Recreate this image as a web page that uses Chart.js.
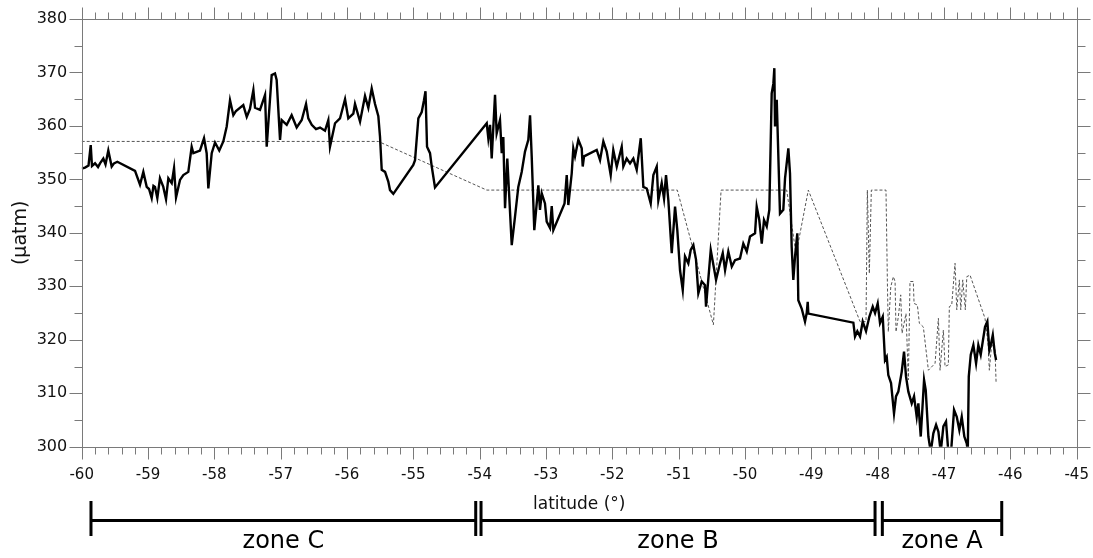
<!DOCTYPE html>
<html>
<head>
<meta charset="utf-8">
<script src="https://cdn.jsdelivr.net/npm/chart.js@4.4.1/dist/chart.umd.min.js"></script>
<style>
  html, body { margin: 0; padding: 0; background: #fff; }
  #wrap { width: 1093px; height: 558px; position: relative; }
</style>
</head>
<body>
<div id="wrap"><canvas id="chart"></canvas></div>
<script>
// Measured pCO2 along the track (solid line)
const measLat = [
  -60.000, -59.950, -59.897, -59.864, -59.845, -59.799, -59.754, -59.724, -59.674, -59.641,
  -59.599, -59.548, -59.513, -59.463, -59.196, -59.121, -59.071, -59.020, -58.985, -58.945,
  -58.918, -58.895, -58.860, -58.820, -58.770, -58.729, -58.694, -58.643, -58.608, -58.578,
  -58.518, -58.468, -58.393, -58.342, -58.317, -58.217, -58.156, -58.116, -58.091, -58.040,
  -57.990, -57.926, -57.865, -57.814, -57.764, -57.714, -57.674, -57.564, -57.512, -57.463,
  -57.412, -57.387, -57.312, -57.236, -57.211, -57.136, -57.086, -57.061, -57.010, -56.985,
  -56.909, -56.835, -56.759, -56.683, -56.618, -56.584, -56.532, -56.468, -56.407, -56.332,
  -56.282, -56.257, -56.181, -56.106, -56.030, -55.981, -55.905, -55.880, -55.804, -55.729,
  -55.679, -55.628, -55.578, -55.528, -55.503, -55.477, -55.427, -55.378, -55.352, -55.302,
  -55.001, -54.975, -54.925, -54.874, -54.840, -54.817, -54.794, -54.749, -54.723, -54.674,
  -53.894, -53.870, -53.844, -53.819, -53.769, -53.744, -53.694, -53.668, -53.644, -53.618,
  -53.584, -53.517, -53.468, -53.418, -53.367, -53.317, -53.267, -53.241, -53.216, -53.177,
  -53.116, -53.091, -53.065, -53.016, -52.990, -52.940, -52.914, -52.890, -52.721, -52.688,
  -52.664, -52.613, -52.589, -52.563, -52.513, -52.462, -52.447, -52.427, -52.236, -52.186,
  -52.136, -52.085, -52.025, -51.986, -51.934, -51.859, -51.835, -51.784, -51.734, -51.684,
  -51.633, -51.572, -51.533, -51.482, -51.422, -51.382, -51.331, -51.307, -51.256, -51.221,
  -51.191, -51.156, -51.105, -51.055, -51.021, -50.980, -50.939, -50.905, -50.855, -50.819,
  -50.779, -50.739, -50.704, -50.653, -50.603, -50.588, -50.517, -50.437, -50.377, -50.336,
  -50.301, -50.252, -50.200, -50.151, -50.076, -50.026, -49.974, -49.925, -49.849, -49.824,
  -49.785, -49.748, -49.714, -49.673, -49.634, -49.598, -49.573, -49.558, -49.548, -49.522,
  -49.473, -49.423, -49.397, -49.347, -49.322, -49.297, -49.272, -49.246, -49.212, -49.197,
  -49.145, -49.096, -49.070, -49.055, -49.046, -48.367, -48.342, -48.307, -48.266, -48.226,
  -48.176, -48.126, -48.075, -48.040, -48.000, -47.965, -47.924, -47.890, -47.864, -47.840,
  -47.799, -47.754, -47.724, -47.689, -47.638, -47.603, -47.573, -47.538, -47.487, -47.452,
  -47.412, -47.387, -47.351, -47.301, -47.276, -47.236, -47.200, -47.161, -47.120, -47.085,
  -47.050, -47.010, -46.970, -46.935, -46.894, -46.849, -46.808, -46.769, -46.733, -46.694,
  -46.657, -46.642, -46.627, -46.597, -46.558, -46.517, -46.483, -46.447, -46.416, -46.382,
  -46.347, -46.317, -46.291, -46.265, -46.235, -46.215
];
const measPco2 = [
  352.0, 352.2, 352.6, 356.4, 352.5, 353.0, 352.3, 353.0, 353.9, 352.8,
  355.4, 352.4, 353.0, 353.3, 351.6, 349.0, 351.4, 348.6, 348.2, 346.5,
  348.8, 348.6, 346.5, 350.2, 348.6, 346.3, 350.2, 349.3, 352.1, 346.6,
  349.9, 350.8, 351.4, 356.1, 354.9, 355.4, 357.7, 354.9, 348.3, 354.9,
  356.9, 355.4, 357.1, 359.9, 364.8, 362.0, 362.8, 363.9, 361.7, 363.2,
  366.7, 363.4, 363.0, 365.8, 356.1, 369.5, 369.8, 368.6, 357.4, 361.1,
  360.2, 362.0, 359.7, 361.1, 364.1, 361.4, 360.2, 359.4, 359.7, 359.1,
  361.1, 356.1, 360.5, 361.4, 365.0, 361.4, 362.3, 364.1, 360.8, 365.6,
  363.4, 367.0, 364.1, 361.8, 358.0, 351.8, 351.4, 349.6, 348.0, 347.3,
  352.7, 353.6, 361.4, 362.6, 364.8, 366.5, 356.1, 354.9, 352.4, 348.5,
  360.5, 357.7, 360.2, 353.9, 365.8, 358.6, 361.1, 354.9, 357.9, 344.6,
  353.9, 337.7, 343.0, 348.6, 351.4, 355.2, 357.4, 362.0, 354.3, 340.5,
  348.9, 344.3, 347.4, 345.5, 342.1, 340.9, 345.0, 340.5, 345.5, 350.8,
  345.2, 351.1, 355.8, 354.3, 357.4, 355.8, 352.4, 354.3, 355.5, 353.6,
  357.1, 355.2, 350.8, 355.5, 352.4, 356.1, 352.4, 353.9, 353.0, 353.9,
  351.8, 357.7, 348.6, 348.3, 345.5, 350.8, 352.4, 346.1, 349.3, 346.4,
  350.8, 346.1, 336.2, 344.9, 340.5, 333.0, 329.3, 335.6, 334.3, 336.8,
  337.7, 335.0, 328.7, 330.9, 330.2, 326.2, 336.8, 331.2, 334.3, 336.2,
  333.0, 336.5, 333.7, 334.9, 335.2, 338.0, 336.5, 339.3, 339.9, 344.9,
  342.4, 338.0, 342.4, 341.2, 344.3, 366.1, 367.9, 370.8, 359.9, 364.9,
  343.6, 344.3, 350.2, 355.8, 351.1, 337.4, 331.2, 335.6, 339.9, 327.4,
  325.8, 323.4, 325.0, 327.1, 324.9, 323.2, 320.6, 321.6, 320.6, 323.4,
  321.6, 324.3, 326.2, 325.0, 326.8, 323.1, 324.3, 316.2, 316.8, 313.4,
  311.9, 306.2, 309.4, 310.3, 314.0, 317.8, 313.1, 310.3, 308.1, 309.4,
  305.6, 308.1, 301.9, 312.5, 310.6, 301.9, 299.0, 302.5, 304.1, 302.8,
  299.0, 303.8, 304.7, 299.0, 299.0, 306.9, 305.6, 303.1, 305.6, 301.9,
  300.6, 299.0, 313.1, 317.2, 319.0, 315.6, 319.0, 317.2, 319.7, 322.4,
  323.4, 318.1, 319.3, 320.9, 317.5, 316.2
];

// Reference / climatology values (dashed line)
const refLat = [
  -60.000, -55.528, -53.894, -51.021, -50.477, -50.361, -49.372, -49.231, -49.046, -48.266,
  -48.176, -48.156, -48.126, -48.096, -47.875, -47.852, -47.840, -47.803, -47.764, -47.738,
  -47.724, -47.689, -47.653, -47.633, -47.573, -47.538, -47.513, -47.463, -47.452, -47.402,
  -47.372, -47.312, -47.236, -47.135, -47.085, -47.060, -47.010, -46.985, -46.935, -46.920,
  -46.884, -46.834, -46.808, -46.769, -46.748, -46.718, -46.679, -46.657, -46.608, -46.382,
  -46.332, -46.317, -46.281, -46.231, -46.215
];
const refPco2 = [
  357.1, 357.1, 348.0, 348.0, 322.8, 348.0, 348.0, 336.0, 348.0, 323.4,
  323.4, 348.0, 332.4, 348.0, 348.0, 329.3, 321.5, 329.9, 331.8, 330.9,
  321.5, 324.3, 328.4, 321.2, 324.9, 312.5, 330.9, 330.9, 326.8, 326.5,
  323.1, 322.4, 314.3, 315.6, 324.0, 314.3, 321.8, 315.0, 315.3, 326.2,
  326.5, 334.3, 325.6, 331.2, 325.6, 331.2, 325.6, 331.8, 332.1, 324.0,
  318.7, 314.3, 319.3, 318.1, 311.9
];

// Zone brackets under the axis (latitude ends)
const zoneNames = ['zone C', 'zone B', 'zone A'];
const zoneStart = [-59.86, -53.98, -47.93];
const zoneEnd = [-54.06, -48.04, -46.13];

const xMin = -60, xMax = -45;
const yMin = 300, yMax = 380;

const toPoints = (xs, ys) => xs.map((v, i) => ({ x: v, y: ys[i] }));

// Frame with major/minor ticks on all four sides
const frameTicks = {
    id: 'frameTicks',
    afterDraw(chart) {
        const { ctx, chartArea: a, scales: { x, y } } = chart;
        ctx.save();
        ctx.strokeStyle = '#7a7a7a';
        ctx.lineWidth = 1;
        const seg = (x1, y1, x2, y2) => {
            ctx.beginPath();
            ctx.moveTo(x1, y1);
            ctx.lineTo(x2, y2);
            ctx.stroke();
        };
        const L = Math.round(a.left) + 0.5, R = Math.round(a.right) + 0.5;
        const T = Math.round(a.top) + 0.5, B = Math.round(a.bottom) + 0.5;
        ctx.strokeRect(L, T, R - L, B - T);
        for (let i = 0; i <= (xMax - xMin) * 5; i++) {
            const v = xMin + i * 0.2;
            const px = Math.round(x.getPixelForValue(v)) + 0.5;
            const len = i % 5 === 0 ? 12 : 7;
            seg(px, B, px, B + len);
            seg(px, T, px, T - len);
        }
        for (let v = yMin; v <= yMax; v += 5) {
            const py = Math.round(y.getPixelForValue(v)) + 0.5;
            const len = v % 10 === 0 ? 13 : 8;
            seg(L - len, py, L, py);
            seg(R, py, R + len, py);
        }
        ctx.restore();
    }
};

// Zone brackets and names below the latitude axis
const zoneBrackets = {
    id: 'zoneBrackets',
    afterDraw(chart) {
        const { ctx, scales: { x } } = chart;
        const lineY = 520.5, barTop = 501, barBot = 536;
        ctx.save();
        ctx.strokeStyle = '#000';
        ctx.fillStyle = '#000';
        ctx.lineWidth = 3;
        ctx.font = '24px "DejaVu Sans"';
        ctx.textAlign = 'center';
        ctx.textBaseline = 'alphabetic';
        zoneNames.forEach((name, i) => {
            const x1 = x.getPixelForValue(zoneStart[i]);
            const x2 = x.getPixelForValue(zoneEnd[i]);
            ctx.beginPath();
            ctx.moveTo(x1, lineY); ctx.lineTo(x2, lineY);
            ctx.moveTo(x1, barTop); ctx.lineTo(x1, barBot);
            ctx.moveTo(x2, barTop); ctx.lineTo(x2, barBot);
            ctx.stroke();
            ctx.fillText(name, (x1 + x2) / 2, 548);
        });
        ctx.restore();
    }
};

const ctx = document.getElementById('chart').getContext('2d');
new Chart(ctx, {
    type: 'line',
    data: {
        datasets: [
            {
                label: 'measured',
                data: toPoints(measLat, measPco2),
                borderColor: '#000',
                borderWidth: 2.4,
                pointRadius: 0,
                tension: 0,
                fill: false
            },
            {
                label: 'reference',
                data: toPoints(refLat, refPco2),
                borderColor: '#555',
                borderWidth: 1,
                borderDash: [3, 2],
                pointRadius: 0,
                tension: 0,
                fill: false
            }
        ]
    },
    options: {
        responsive: true,
        maintainAspectRatio: false,
        animation: false,
        layout: { padding: { top: 19, right: 16.3, left: 0, bottom: 0 } },
        plugins: {
            legend: { display: false },
            tooltip: { enabled: false }
        },
        scales: {
            x: {
                type: 'linear',
                min: xMin,
                max: xMax,
                // tick marks are drawn by frameTicks; tickLength only spaces the labels
                grid: { display: false, drawTicks: true, tickLength: 16 },
                border: { display: false },
                ticks: {
                    stepSize: 1,
                    padding: 3,
                    color: '#111',
                    font: { family: 'DejaVu Sans', size: 15 },
                    callback: v => String(v)
                },
                title: {
                    display: true,
                    text: 'latitude (°)',
                    color: '#111',
                    font: { family: 'DejaVu Sans', size: 17 },
                    padding: { top: 43, bottom: 43 }
                },
                afterFit: s => { s.height = 111.3; }
            },
            y: {
                type: 'linear',
                min: yMin,
                max: yMax,
                grid: { display: false, drawTicks: true, tickLength: 11.5 },
                border: { display: false },
                ticks: {
                    stepSize: 10,
                    padding: 3,
                    color: '#111',
                    font: { family: 'DejaVu Sans', size: 16 }
                },
                title: {
                    display: true,
                    text: '(μatm)',
                    color: '#111',
                    font: { family: 'DejaVu Sans', size: 19 },
                    padding: { top: 10, bottom: 10 }
                },
                afterFit: s => { s.width = 81.7; }
            }
        }
    },
    plugins: [frameTicks, zoneBrackets]
});
</script>
</body>
</html>
